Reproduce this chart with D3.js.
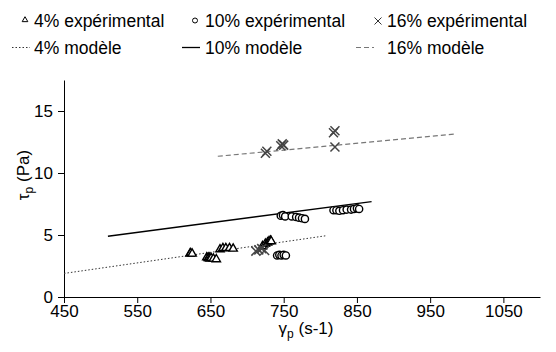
<!DOCTYPE html>
<html>
<head>
<meta charset="utf-8">
<script src="https://cdn.jsdelivr.net/npm/d3@7"></script>
<style>
  body { margin: 0; background: #fff; }
  svg { font-family: "Liberation Sans", Arial, sans-serif; }
  .axis path, .axis line { stroke: #000; stroke-width: 1; }
  .axis text { font-size: 17px; fill: #000; font-family: "Liberation Sans", Arial, sans-serif; }
</style>
</head>
<body>
<div id="chart"></div>
<script>
// experimental points (gamma_p in s-1, tau_p in Pa)
const exp4X = [622, 623, 625, 645, 647, 648, 649, 651, 654, 658, 663, 667, 671, 676, 681, 721, 725, 728, 730, 732, 733]
const exp4Y = [3.45, 3.5, 3.45, 3.15, 3.1, 3.15, 3.05, 3.1, 3.05, 3.0, 3.8, 3.9, 3.9, 3.9, 3.85, 4.05, 4.25, 4.35, 4.45, 4.5, 4.45]

const exp10X = [741, 744, 747, 750, 753, 746, 749, 752, 761, 767, 771, 775, 779, 818, 822, 826, 831, 836, 842, 846, 850, 853]
const exp10Y = [3.35, 3.4, 3.35, 3.4, 3.35, 6.55, 6.6, 6.5, 6.5, 6.45, 6.4, 6.35, 6.3, 7.0, 7.0, 6.95, 7.0, 7.05, 7.05, 7.1, 7.15, 7.1]

const exp16X = [712, 716, 720, 724, 725, 727, 746, 748, 750, 818, 820, 820]
const exp16Y = [3.7, 3.8, 3.9, 3.75, 11.6, 11.75, 12.2, 12.35, 12.25, 13.25, 13.4, 12.1]

// model lines
const mod4X = [450, 809]
const mod4Y = [1.9, 4.95]
const mod10X = [510, 870]
const mod10Y = [4.9, 7.7]
const mod16X = [660, 985]
const mod16Y = [11.35, 13.15]

const xTicks = [450, 550, 650, 750, 850, 950, 1050]
const yTicks = [0, 5, 10, 15]

const legendExp = ["4% expérimental", "10% expérimental", "16% expérimental"]
const legendMod = ["4% modèle", "10% modèle", "16% modèle"]

window.onload = function() {
  let w = 556,
    h = 352;

  const svg = d3.select("#chart").append("svg")
      .attr("width", w)
      .attr("height", h)

  let xScale = d3.scaleLinear()
      .domain([450, 1100])
      .range([64, 540])

  let yScale = d3.scaleLinear()
      .domain([0, 17.5])
      .range([297, 80])

  svg.append("g")
      .attr("class", "axis")
      .attr("transform", "translate(0," + yScale(0) + ")")
      .call(d3.axisBottom(xScale).tickValues(xTicks).tickFormat(d3.format("d"))
        .tickSize(6).tickPadding(2).tickSizeOuter(0))

  svg.append("g")
      .attr("class", "axis")
      .attr("transform", "translate(" + xScale(450) + ",0)")
      .call(d3.axisLeft(yScale).tickValues(yTicks).tickSize(6).tickPadding(5).tickSizeOuter(0))

  // axis titles
  let xt = svg.append("text")
      .attr("x", 306)
      .attr("y", 334)
      .attr("text-anchor", "middle")
      .style("font-size", "17px")
  xt.append("tspan").text("γ")
  xt.append("tspan").attr("dy", 4).style("font-size", "12px").text("p")
  xt.append("tspan").attr("dy", -4).text(" (s-1)")

  let yt = svg.append("text")
      .attr("transform", "translate(29,175) rotate(-90)")
      .attr("text-anchor", "middle")
      .style("font-size", "17px")
  yt.append("tspan").text("τ")
  yt.append("tspan").attr("dy", 4).style("font-size", "12px").text("p")
  yt.append("tspan").attr("dy", -4).text(" (Pa)")

  // model lines
  let line = d3.line()
      .x(function(d) { return xScale(d[0]); })
      .y(function(d) { return yScale(d[1]); })

  const models = [
    { x: mod4X, y: mod4Y, color: "#333", dash: "1.5,2", width: 1 },
    { x: mod10X, y: mod10Y, color: "#000", dash: null, width: 1.3 },
    { x: mod16X, y: mod16Y, color: "#777", dash: "5,3", width: 1.2 }
  ]
  models.forEach(function(m) {
    svg.append("path")
        .datum(d3.zip(m.x, m.y))
        .attr("fill", "none")
        .attr("stroke", m.color)
        .attr("stroke-width", m.width)
        .attr("stroke-dasharray", m.dash)
        .attr("d", line)
  })

  const tri = d3.symbol().type(d3.symbolTriangle).size(30)

  // 4% triangles
  svg.append("g").selectAll("path")
      .data(d3.zip(exp4X, exp4Y))
      .enter().append("path")
        .attr("d", tri)
        .attr("transform", function(d) { return "translate(" + xScale(d[0]) + "," + (yScale(d[1]) - 0.5) + ")"; })
        .attr("fill", "#fff")
        .attr("stroke", "#000")
        .attr("stroke-width", 1.4)

  // 10% circles
  svg.append("g").selectAll("circle")
      .data(d3.zip(exp10X, exp10Y))
      .enter().append("circle")
        .attr("cx", function(d) { return xScale(d[0]); })
        .attr("cy", function(d) { return yScale(d[1]); })
        .attr("r", 3.6)
        .attr("fill", "#fff")
        .attr("stroke", "#000")
        .attr("stroke-width", 1.4)

  // 16% crosses
  const cross = function(s) { return "M" + -s + "," + -s + "L" + s + "," + s + "M" + -s + "," + s + "L" + s + "," + -s; }
  svg.append("g").selectAll("path")
      .data(d3.zip(exp16X, exp16Y))
      .enter().append("path")
        .attr("d", cross(4.5))
        .attr("transform", function(d) { return "translate(" + xScale(d[0]) + "," + yScale(d[1]) + ")"; })
        .attr("stroke", "#444")
        .attr("stroke-width", 1.5)
        .attr("fill", "none")

  // legend
  const legX = [34, 205, 387]
  const leg = svg.append("g").style("font-size", "17.5px")

  leg.append("path").attr("d", d3.symbol().type(d3.symbolTriangle).size(14))
      .attr("transform", "translate(25,20)").attr("fill", "#fff").attr("stroke", "#000")
  leg.append("circle").attr("cx", 195).attr("cy", 20.5).attr("r", 2.5)
      .attr("fill", "#fff").attr("stroke", "#000")
  leg.append("path").attr("d", cross(3.5)).attr("transform", "translate(378,21)")
      .attr("stroke", "#333").attr("fill", "none")

  legendExp.forEach(function(t, i) {
    leg.append("text").attr("x", legX[i]).attr("y", 27).text(t)
  })

  const legLines = [[12, 30], [182, 200], [356, 374]]
  legendMod.forEach(function(t, i) {
    leg.append("line")
        .attr("x1", legLines[i][0]).attr("x2", legLines[i][1])
        .attr("y1", 47.5).attr("y2", 47.5)
        .attr("stroke", models[i].color)
        .attr("stroke-width", models[i].width)
        .attr("stroke-dasharray", models[i].dash)
    leg.append("text").attr("x", legX[i]).attr("y", 54).text(t)
  })
}
</script>
</body>
</html>
